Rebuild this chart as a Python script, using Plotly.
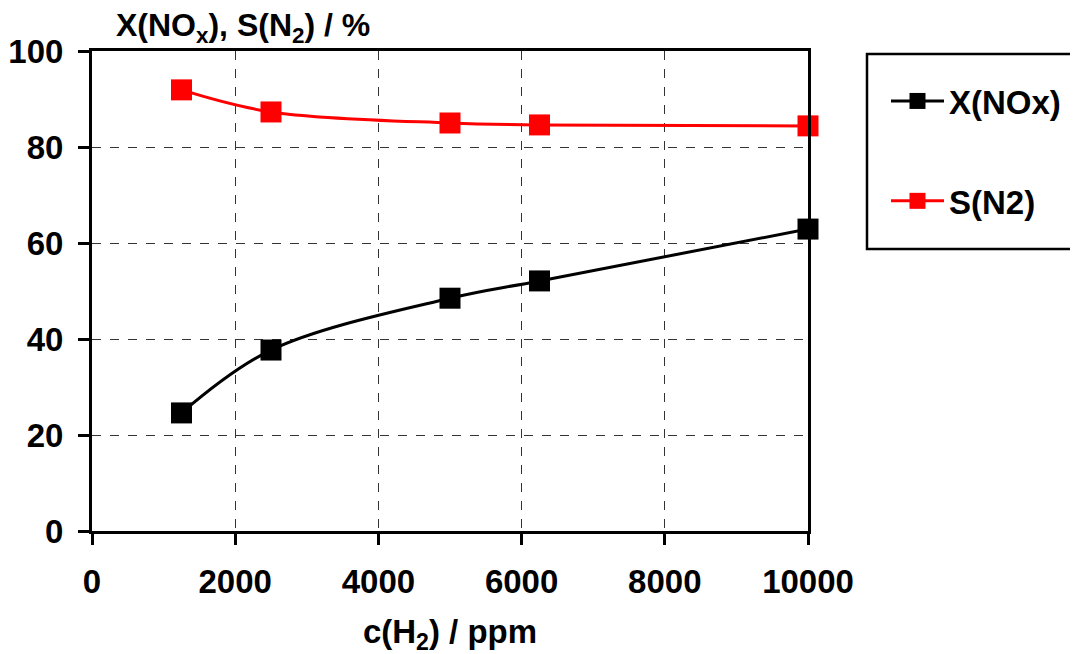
import plotly.graph_objects as go

c_h2 = [1250, 2500, 5000, 6250, 10000]
x_nox = [24.6, 37.7, 48.5, 52.1, 62.9]
s_n2 = [91.9, 87.3, 85.0, 84.6, 84.4]
x_ticks = [0, 2000, 4000, 6000, 8000, 10000]
x_ticklabels = ["0", "2000", "4000", "6000", "8000", "10000"]
y_ticks = [0, 20, 40, 60, 80, 100]

FONT = "Liberation Sans, Arial, sans-serif"

# page body has ~8px margin; compensate
OFF = 8
L, R, T, B = 92 - OFF, 808 - OFF, 51 - OFF, 531 - OFF
W, H = 1078, 654
PW, PH = R - L, B - T

def px(xs):
    return (xs - OFF - L) / PW

def py(ys):
    return (B - (ys - OFF)) / PH

fig = go.Figure()
fig.add_trace(go.Scatter(
    x=c_h2, y=x_nox, name="<b>X(NOx)</b>", mode="lines+markers",
    line=dict(color="black", width=3, shape="spline", smoothing=1.0),
    marker=dict(symbol="square", size=21, color="black"),
    cliponaxis=False, legendgroup="a"))
fig.add_trace(go.Scatter(
    x=c_h2, y=s_n2, name="<b>S(N2)</b>", mode="lines+markers",
    line=dict(color="#ff0000", width=3, shape="spline", smoothing=1.0),
    marker=dict(symbol="square", size=21, color="#ff0000"),
    cliponaxis=False, legendgroup="b"))

axis_common = dict(
    showline=True, linecolor="black", linewidth=3, mirror=True,
    ticks="outside", ticklen=11, tickwidth=3, tickcolor="black",
    showgrid=True, gridcolor="#333333", gridwidth=1, griddash="dash",
    zeroline=False, automargin=False,
    tickfont=dict(family=FONT, size=33, color="black", weight="bold"),
)

fig.update_xaxes(range=[0, 10000], tickvals=x_ticks, ticktext=x_ticklabels,
                 ticklabelstandoff=8,
                 title=dict(text="<b>c(H<sub>2</sub>) / ppm</b>",
                            font=dict(family=FONT, size=33, color="black"), standoff=22),
                 **axis_common)
fig.update_yaxes(range=[0, 100], tickvals=y_ticks, ticklabelstandoff=8, **axis_common)

fig.add_annotation(text="<b>X(NO<sub>x</sub>), S(N<sub>2</sub>) / %</b>",
                   xref="paper", yref="paper", x=px(114), y=1.0, xanchor="left", yanchor="bottom",
                   yshift=1, showarrow=False,
                   font=dict(family=FONT, size=32, color="black"))

# legend frame
fig.add_shape(type="rect", xref="paper", yref="paper",
              x0=px(867), x1=px(1076),
              y0=py(249), y1=py(54),
              line=dict(color="black", width=2.5), fillcolor="rgba(0,0,0,0)")

fig.update_layout(
    width=W, height=H,
    margin=dict(l=L, r=W - R, t=T, b=H - B, autoexpand=False),
    plot_bgcolor="white", paper_bgcolor="white",
    showlegend=True,
    legend=dict(x=px(886), y=py(73), xanchor="left", yanchor="top",
                font=dict(family=FONT, size=33, color="black"),
                traceorder="grouped", tracegroupgap=54, itemwidth=53,
                bgcolor="rgba(0,0,0,0)", borderwidth=0),
)

fig.write_html("out.html")
